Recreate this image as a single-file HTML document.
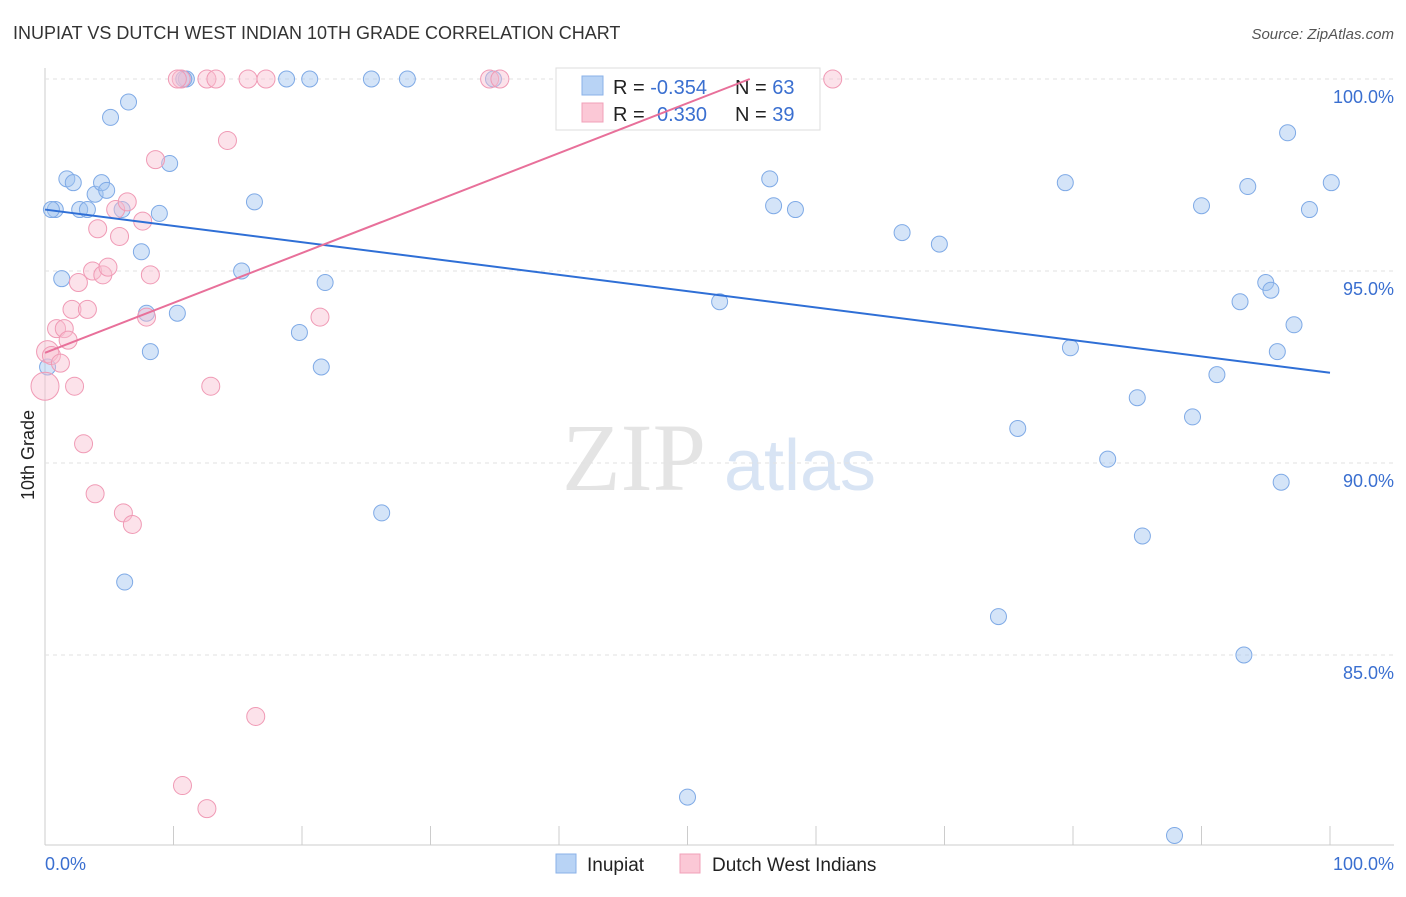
<!DOCTYPE html>
<html><head><meta charset="utf-8"><style>
body{margin:0;background:#fff;font-family:"Liberation Sans",sans-serif}
</style></head><body>
<svg id="c" width="1406" height="892" xmlns="http://www.w3.org/2000/svg">
<text x="13" y="39" font-size="18" fill="#333">INUPIAT VS DUTCH WEST INDIAN 10TH GRADE CORRELATION CHART</text>
<text x="1394" y="39" font-size="15" fill="#555" font-style="italic" text-anchor="end">Source: ZipAtlas.com</text>
<text x="634" y="490" font-size="96" fill="#e4e4e4" font-family="Liberation Serif" text-anchor="middle">ZIP</text>
<text x="800" y="490" font-size="72" fill="#d8e4f4" text-anchor="middle">atlas</text>
<text transform="translate(34,455) rotate(-90)" font-size="18" fill="#222" text-anchor="middle">10th Grade</text>
<g id="grid"></g><g id="pts"></g>
<g>
<rect x="556" y="68" width="264" height="62" fill="#fff" stroke="#ddd"/>
<rect x="582" y="76" width="21" height="19" fill="#b8d3f5" stroke="#8ab2e8"/>
<rect x="582" y="103" width="21" height="19" fill="#fbc8d6" stroke="#f0a0b8"/>
<text x="613" y="94" font-size="20" fill="#222">R = <tspan fill="#3a6fd0">-0.354</tspan></text>
<text x="735" y="94" font-size="20" fill="#222">N = <tspan fill="#3a6fd0">63</tspan></text>
<text x="613" y="121" font-size="20" fill="#222">R = <tspan fill="#3a6fd0" x="657">0.330</tspan></text>
<text x="735" y="121" font-size="20" fill="#222">N = <tspan fill="#3a6fd0">39</tspan></text>
</g>
<g id="lines"></g>
<g>
<rect x="556" y="854" width="20" height="19" fill="#b8d3f5" stroke="#8ab2e8"/>
<text x="587" y="871" font-size="19" fill="#222">Inupiat</text>
<rect x="680" y="854" width="20" height="19" fill="#fbc8d6" stroke="#f0a0b8"/>
<text x="712" y="871" font-size="19" fill="#222">Dutch West Indians</text>
</g>
<text x="45" y="870" font-size="18" fill="#3a6fd0">0.0%</text>
<text x="1394" y="870" font-size="18" fill="#3a6fd0" text-anchor="end">100.0%</text>
</svg>
<script>
const yTicks=[100,95,90,85];
const yTickLabels=["100.0%","95.0%","90.0%","85.0%"];
const blueX=[0.8,1.7,2.2,2.7,3.3,3.9,4.4,4.8,5.1,6.5,6.0,9.7,8.9,7.5,1.3,7.9,10.3,8.2,11.0,10.8,16.3,15.3,19.8,21.8,21.5,18.8,20.6,25.4,28.2,34.9,47.2,26.2,6.2,56.4,56.7,58.4,52.5,66.7,69.6,50.0,79.4,79.8,75.7,82.7,85.0,85.4,74.2,87.9,90.0,93.6,96.7,100.1,98.4,95.0,95.4,93.0,97.2,95.9,91.2,89.3,96.2,93.3,0.2,0.5];
const blueY=[96.6,97.4,97.3,96.6,96.6,97.0,97.3,97.1,99.0,99.4,96.6,97.8,96.5,95.5,94.8,93.9,93.9,92.9,100,100,96.8,95.0,93.4,94.7,92.5,100,100,100,100,100,100,88.7,86.9,97.4,96.7,96.6,94.2,96.0,95.7,81.3,97.3,93.0,90.9,90.1,91.7,88.1,86.0,80.3,96.7,97.2,98.6,97.3,96.6,94.7,94.5,94.2,93.6,92.9,92.3,91.2,89.5,85.0,92.5,96.6];
const pinkX=[0.0,0.2,0.5,0.9,1.2,1.5,1.8,2.3,2.6,2.1,3.0,3.3,3.7,3.9,4.1,4.5,4.9,5.5,5.8,6.1,6.4,6.8,7.6,7.9,8.2,8.6,10.6,10.3,12.6,12.9,13.3,14.2,15.8,17.2,16.4,10.7,12.6,21.4,34.6,35.4,61.3];
const pinkY=[92.0,92.9,92.8,93.5,92.6,93.5,93.2,92.0,94.7,94.0,90.5,94.0,95.0,89.2,96.1,94.9,95.1,96.6,95.9,88.7,96.8,88.4,96.3,93.8,94.9,97.9,100,100,100,92.0,100,98.4,100,100,83.4,81.6,81.0,93.8,100,100,100];
const pinkR=[14,11,9,9,9,9,9,9,9,9,9,9,9,9,9,9,9,9,9,9,9,9,9,9,9,9,9,9,9,9,9,9,9,9,9,9,9,9,9,9,9];
const blueTrend=[96.6,92.35];
const pinkTrend=[92.87,0.13];
const X0=45,X1=1330,Y100=79,PX=38.4;
const sx=v=>X0+(X1-X0)*v/100, sy=v=>Y100+(100-v)*PX;
const NS="http://www.w3.org/2000/svg";
function mk(t,a,p){const e=document.createElementNS(NS,t);for(const k in a)e.setAttribute(k,a[k]);p.appendChild(e);return e;}
const g=document.getElementById('grid');
const ax=mk('line',{x1:45,y1:68,x2:45,y2:845,stroke:'#ccc'},g);


const bx=mk('line',{x1:45,y1:845,x2:1394,y2:845,stroke:'#ccc'},g);


for(let i=1;i<=10;i++){const t=mk('line',{x1:sx(i*10),x2:sx(i*10),y1:826,y2:845,stroke:'#ccc'},g);

}
yTicks.forEach((v,i)=>{const l=mk('line',{x1:45,x2:1394,y1:sy(v),y2:sy(v),stroke:'#e2e2e2','stroke-dasharray':'4,4'},g);


const t=mk('text',{x:1394,y:sy(v)+24,'font-size':18,fill:'#3a6fd0','text-anchor':'end'},g);t.textContent=yTickLabels[i];

});
const p=document.getElementById('pts');
blueX.forEach((x,i)=>{const c=mk('circle',{cx:sx(x),cy:sy(blueY[i]),r:8,fill:'rgba(160,196,240,0.45)',stroke:'#7faae6','stroke-width':1},p);

});
pinkX.forEach((x,i)=>{const c=mk('circle',{cx:sx(x),cy:sy(pinkY[i]),r:pinkR[i],fill:'rgba(248,190,208,0.45)',stroke:'#f09ab5','stroke-width':1},p);

});
const L=document.getElementById('lines');
const bl=mk('line',{x1:sx(0),y1:sy(blueTrend[0]),x2:sx(100),y2:sy(blueTrend[1]),stroke:'#2f6fd6','stroke-width':2},L);


const xe=(100-pinkTrend[0])/pinkTrend[1];
const pl=mk('line',{x1:sx(0),y1:sy(pinkTrend[0]),x2:sx(xe),y2:sy(100),stroke:'#e8709a','stroke-width':2},L);


</script>
</body></html>
